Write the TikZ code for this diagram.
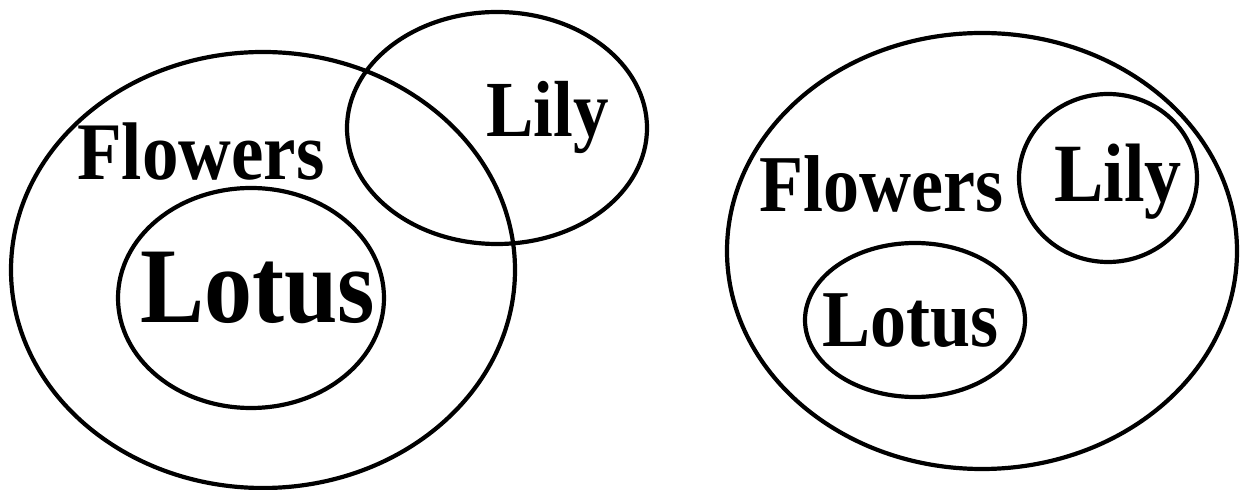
\documentclass[tikz,border=0pt]{standalone}
\usepackage{fontspec}
\setmainfont{Liberation Serif}
\newcommand{\tallbold}[2]{\scalebox{1}[1.12]{\bfseries\fontsize{#1}{#1}\selectfont #2}}
\begin{document}
\begin{tikzpicture}[x=1pt,y=1pt,
  ring/.style={draw=black,line width=4.2pt},
  lbl/.style={anchor=base west,inner sep=0pt}]
\useasboundingbox (0,0) rectangle (1240,490);
% left diagram (y = 490 - image y)
\draw[ring] (263,220) ellipse [x radius=252,y radius=218];
\draw[ring] (251,192) ellipse [x radius=133,y radius=110];
\draw[ring] (497,362) ellipse [x radius=150,y radius=116];
\node[lbl] (flowersL) at (77,310) {\tallbold{73}{Flowers}};
\node[lbl] (lotusL) at (140,167) {\tallbold{96}{Lotus}};
\node[lbl] (lilyL) at (486,353) {\tallbold{71}{Lily}};
% right diagram
\draw[ring] (982,239) ellipse [x radius=255,y radius=218];
\draw[ring] (1108,312) ellipse [x radius=89,y radius=84];
\draw[ring] (915,170) ellipse [x radius=110,y radius=77];
\node[lbl] (flowersR) at (759,278) {\tallbold{72}{Flowers}};
\node[lbl] (lilyR) at (1054,288) {\tallbold{74}{Lily}};
\node[lbl] (lotusR) at (822,143) {\tallbold{72}{Lotus}};
\end{tikzpicture}
\end{document}
